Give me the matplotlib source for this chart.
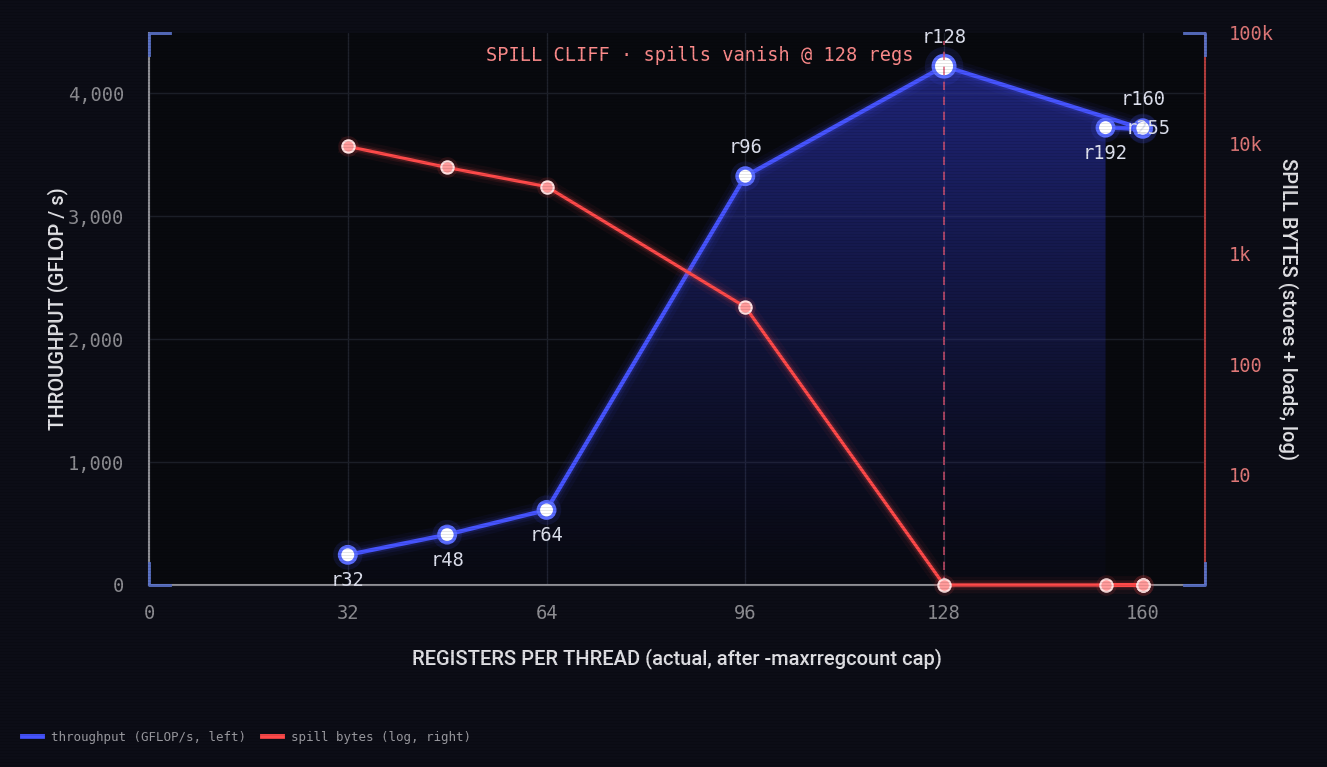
import numpy as np
import matplotlib.pyplot as plt
from matplotlib.lines import Line2D
from matplotlib.path import Path
from matplotlib.ticker import FuncFormatter, FixedLocator, NullLocator

# --- data (cap order) ---
cap_labels = ["r32", "r48", "r64", "r96", "r128", "r160", "r192", "r255"]
regs_actual = [32, 48, 64, 96, 128, 160, 154, 160]
gflops = [245, 410, 610, 3325, 4220, 3710, 3720, 3715]
spill_bytes = [9400, 6050, 4060, 330, 1, 1, 1, 1]   # 0 spills drawn on the floor (1)
label_pos = ["below", "below", "below", "above", "above", "above", "below", "right"]

x_ticks = [0, 32, 64, 96, 128, 160]
y_ticks = [0, 1000, 2000, 3000, 4000]
spill_ticks = [10, 100, 1000, 10000, 100000]
cliff_x = 128

BG = "#0c0d16"
PLOT_BG = "#08090e"
BLUE = "#4654ff"
RED = "#ff4a4a"
MONO = "DejaVu Sans Mono"
SANS = "Roboto"

fig = plt.figure(figsize=(13.27, 7.67), dpi=100, facecolor=BG)
ax = fig.add_axes([0.1123, 0.2373, 0.7957, 0.7197])
ax.set_facecolor(PLOT_BG)
ax2 = ax.twinx()

ax.set_xlim(0, 170)
ax.set_ylim(0, 4490)
ax2.set_yscale("log")
ax2.set_ylim(1, 100000)

# grid
ax.set_xticks(x_ticks)
ax.set_yticks(y_ticks)
ax.grid(True, color="#1f222c", linewidth=1.0)
ax.set_axisbelow(True)

# gradient area under throughput: ends at the r192 column (winding of the area path)
i_end = cap_labels.index("r192")
i_peak = cap_labels.index("r128")
x0, y0 = regs_actual[i_peak], gflops[i_peak]
x1, y1 = regs_actual[i_peak + 1], gflops[i_peak + 1]
xe = regs_actual[i_end]
ye = y0 + (y1 - y0) * (xe - x0) / (x1 - x0)
verts = ([(regs_actual[0], 0)] + list(zip(regs_actual[:i_peak + 1], gflops[:i_peak + 1]))
         + [(xe, ye), (xe, 0), (regs_actual[0], 0)])
clip = Path(verts, closed=True)
grad = np.linspace(0, 1, 256).reshape(-1, 1)
rgba = np.zeros((256, 1, 4))
rgba[..., 0] = 0.20
rgba[..., 1] = 0.24
rgba[..., 2] = 0.85
rgba[..., 3] = 0.03 + 0.50 * grad ** 1.3
img = ax.imshow(rgba, extent=[0, 170, 0, max(gflops)], origin="lower",
                aspect="auto", zorder=1, interpolation="bilinear")
img.set_clip_path(clip, transform=ax.transData)
ax.set_xlim(0, 170)
ax.set_ylim(0, 4490)

# throughput line with glow
for lw, a in [(14, 0.05), (9, 0.08), (5.5, 0.15)]:
    ax.plot(regs_actual, gflops, color=BLUE, lw=lw, alpha=a, solid_capstyle="round", zorder=3)
ax.plot(regs_actual, gflops, color=BLUE, lw=3, zorder=4, solid_joinstyle="round")
sizes = [140 if l != "r128" else 240 for l in cap_labels]
ax.scatter(regs_actual, gflops, s=[s * 3.2 for s in sizes], color=BLUE, alpha=0.12, lw=0, zorder=4)
ax.scatter(regs_actual, gflops, s=sizes, facecolor="white", edgecolor="#5a6cff", lw=2.5, zorder=5)

offsets = {"below": (0, -26), "above": (0, 29), "right": (5, 0)}
for lab, xv, yv, pos in zip(cap_labels, regs_actual, gflops, label_pos):
    dx, dy = offsets[pos]
    ax.annotate(lab, (xv, yv), xytext=(dx, dy), textcoords="offset pixels",
                ha="center", va="center", color="#dfe2ef", fontsize=13.5,
                family=MONO, zorder=7)

# spill line with glow
for lw, a in [(12, 0.05), (7, 0.09), (4.5, 0.15)]:
    ax2.plot(regs_actual, spill_bytes, color=RED, lw=lw, alpha=a, zorder=3, clip_on=False)
ax2.plot(regs_actual, spill_bytes, color=RED, lw=2.3, zorder=4, clip_on=False)
ax2.scatter(regs_actual, spill_bytes, s=220, color=RED, alpha=0.12, lw=0, zorder=4, clip_on=False)
ax2.scatter(regs_actual, spill_bytes, s=80, facecolor="#ff9a9a", edgecolor="#ffe0e0", lw=1.5,
            zorder=5, clip_on=False)

# spill cliff marker
ax2.axvline(cliff_x, ymin=0, ymax=0.985, color="#d9506e", lw=1.2, dashes=(5, 4), alpha=0.85, zorder=2)
ax.annotate("SPILL CLIFF · spills vanish @ 128 regs", (cliff_x, 4310), xytext=(-31, 0),
            textcoords="offset pixels", ha="right", va="center",
            color="#ff8c8c", fontsize=13.4, family=MONO, zorder=8)

# ticks
ax.xaxis.set_major_formatter(FuncFormatter(lambda v, p: f"{int(v)}"))
ax.yaxis.set_major_formatter(FuncFormatter(lambda v, p: f"{int(v):,}"))
ax.tick_params(axis="both", length=0, colors="#8e8e93", labelsize=13.5)
ax.tick_params(axis="y", pad=18)
ax.tick_params(axis="x", pad=14)
for t in ax.get_xticklabels() + ax.get_yticklabels():
    t.set_family(MONO)

ax2.yaxis.set_major_locator(FixedLocator(spill_ticks))
ax2.yaxis.set_minor_locator(NullLocator())
ax2.yaxis.set_major_formatter(FuncFormatter(
    lambda v, p: {10: "10", 100: "100", 1000: "1k", 10000: "10k", 100000: "100k"}.get(int(round(v)), "")))
ax2.tick_params(axis="y", length=0, colors="#e07878", labelsize=13.5, pad=17)
for t in ax2.get_yticklabels():
    t.set_family(MONO)

# spines
for a in (ax, ax2):
    a.spines["top"].set_visible(False)
ax.spines["left"].set_color("#8f8f95")
ax.spines["bottom"].set_color("#8f8f95")
ax.spines["right"].set_visible(False)
ax2.spines["left"].set_visible(False)
ax2.spines["bottom"].set_visible(False)
ax2.spines["right"].set_color("#b23c3c")
for s in ("left", "bottom"):
    ax.spines[s].set_linewidth(1.5)
ax2.spines["right"].set_linewidth(1.5)

# corner brackets
bw, bh = 0.02, 0.04
bcol = "#5a72c8"
for (cx, cy, sx, sy) in [(0, 0, 1, 1), (0, 1, 1, -1), (1, 0, -1, 1), (1, 1, -1, -1)]:
    ax2.add_line(Line2D([cx + sx * bw, cx, cx], [cy, cy, cy + sy * bh], color=bcol, lw=2,
                        transform=ax2.transAxes, clip_on=False, zorder=10))

# axis labels
ax.set_xlabel("REGISTERS PER THREAD (actual, after -maxrregcount cap)", family=SANS,
              fontsize=14.5, fontweight="medium", color="#e2e2e6", labelpad=18)
ax.set_ylabel("THROUGHPUT (GFLOP / s)", family=SANS, fontsize=14.5, fontweight="medium",
              color="#e2e2e6", labelpad=0)
ax2.set_ylabel("SPILL BYTES (stores + loads, log)", family=SANS, fontsize=14.5,
               fontweight="medium", color="#e2e2e6", rotation=270, labelpad=18)

# legend
handles = [Line2D([], [], color=BLUE, lw=3.5), Line2D([], [], color=RED, lw=3.5)]
leg = fig.legend(handles, ["throughput (GFLOP/s, left)", "spill bytes (log, right)"],
                 loc="center left", bbox_to_anchor=(0.008, 0.039), ncol=2, frameon=False,
                 handlelength=1.6, columnspacing=1.3, handletextpad=0.7,
                 prop={"family": MONO, "size": 9})
for t in leg.get_texts():
    t.set_color("#9a9aa0")

# faint scanlines
scan = np.zeros((767, 1327, 4))
scan[::3, :, 3] = 0.10
fig.figimage(scan, 0, 0, zorder=20)

fig.savefig("out.png", dpi=100, facecolor=BG)
